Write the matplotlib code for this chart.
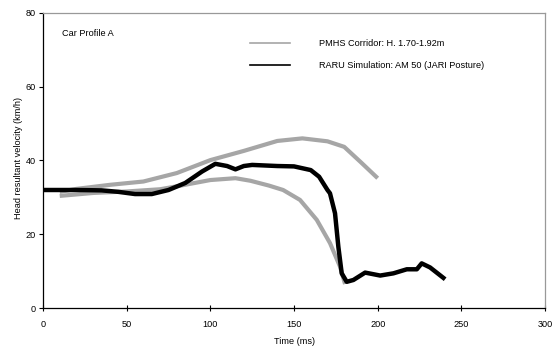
import matplotlib
matplotlib.use("Agg")
import matplotlib.pyplot as plt

plt.rcParams['font.family'] = ['Liberation Sans', 'DejaVu Sans']
fs = 6.6

# PMHS corridor upper bound
upper_t = [10, 20, 40, 60, 80, 100, 120, 140, 155, 170, 180, 190, 200]
upper_v = [31.5, 32.3, 33.4, 34.3, 36.6, 40.1, 42.6, 45.3, 46.0, 45.2, 43.7, 39.5, 35.2]

# PMHS corridor lower bound
lower_t = [10, 30, 50, 70, 80, 100, 115, 124, 135, 143.5, 153.6, 163.6, 171.5, 177.5, 180.5]
lower_v = [30.4, 31.2, 31.6, 32.2, 33.0, 34.7, 35.2, 34.5, 33.2, 32.0, 29.3, 23.9, 17.6, 11.2, 6.5]

# RARU simulation AM50 (JARI posture)
sim_t = [0, 20, 35, 45, 55, 65, 75, 85, 95, 103, 110, 115, 120, 125, 140, 150, 160, 165, 170,
         171.5, 174.5, 176.5, 178.5, 181.5, 185.5, 192.5, 201.5, 209.4, 217.4, 223.4, 226.3, 231.3, 240.3]
sim_v = [32.0, 32.0, 31.9, 31.5, 30.9, 30.9, 32.0, 33.9, 37.0, 39.1, 38.5, 37.6, 38.5, 38.8, 38.5, 38.4, 37.4, 35.6, 32.0,
         31.1, 25.7, 16.6, 9.4, 7.1, 7.6, 9.6, 8.8, 9.4, 10.5, 10.5, 12.1, 11.0, 7.8]

x_ticks = [0, 50, 100, 150, 200, 250, 300]
y_ticks = [0, 20, 40, 60, 80]

fig = plt.figure(figsize=(5.57, 3.51), dpi=100)
ax = fig.add_axes([0.0772, 0.1225, 0.9013, 0.8405])

grey = '#a6a6a6'
ax.plot(upper_t, upper_v, color=grey, lw=3.0, solid_capstyle='butt', solid_joinstyle='round')
ax.plot(lower_t, lower_v, color=grey, lw=3.0, solid_capstyle='butt', solid_joinstyle='round')
ax.plot(sim_t, sim_v, color='black', lw=3.2, solid_capstyle='butt', solid_joinstyle='round')

ax.set_xlim(0, 300)
ax.set_ylim(0, 80)
ax.set_xticks(x_ticks)
ax.set_yticks(y_ticks)
ax.tick_params(axis='x', direction='inout', length=5, width=0.8, labelsize=fs, pad=6)
ax.tick_params(axis='y', direction='out', length=3, width=0.8, labelsize=fs, pad=2)

for s in ['left', 'bottom']:
    ax.spines[s].set_color('black')
    ax.spines[s].set_linewidth(0.9)
for s in ['top', 'right']:
    ax.spines[s].set_color('#999999')
    ax.spines[s].set_linewidth(0.9)

ax.set_xlabel('Time (ms)', fontsize=fs, labelpad=6)
ax.set_ylabel('Head resultant velocity (km/h)', fontsize=fs)
ax.yaxis.set_label_coords(-0.04, 0.51)

ax.text(0.037, 0.93, 'Car Profile A', transform=ax.transAxes, fontsize=fs, va='center', ha='left')

# legend (manual placement in axes coords)
ax.plot([0.412, 0.492], [0.897, 0.897], transform=ax.transAxes, color=grey, lw=1.2)
ax.plot([0.412, 0.492], [0.823, 0.823], transform=ax.transAxes, color='black', lw=1.2)
ax.text(0.55, 0.897, 'PMHS Corridor: H. 1.70-1.92m', transform=ax.transAxes, fontsize=fs, va='center')
ax.text(0.55, 0.823, 'RARU Simulation: AM 50 (JARI Posture)', transform=ax.transAxes, fontsize=fs, va='center')

fig.savefig('out.png', dpi=100)
